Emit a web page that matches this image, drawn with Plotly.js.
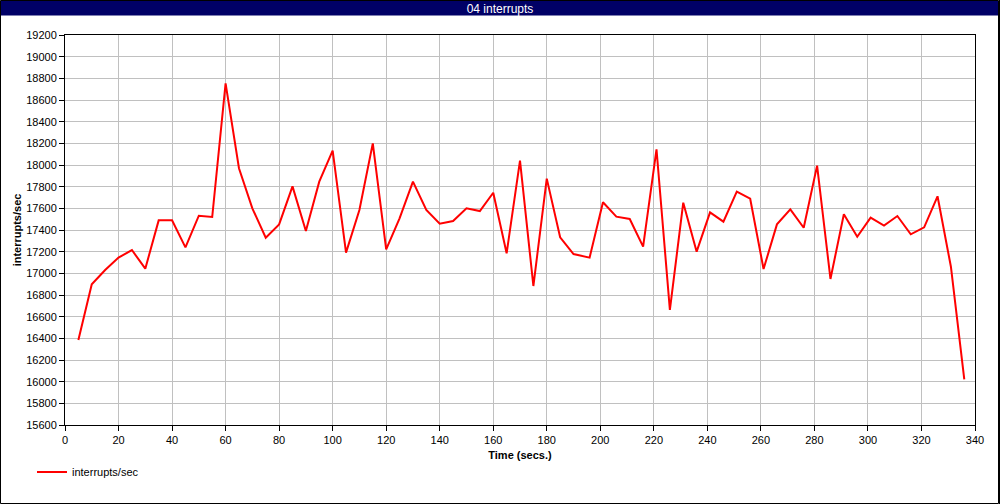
<!DOCTYPE html>
<html>
<head>
<meta charset="utf-8">
<script src="https://cdn.plot.ly/plotly-3.0.1.min.js"></script>
<style>
  html, body { margin: 0; padding: 0; background: #ffffff; }
  #chart { width: 1000px; height: 504px; }
</style>
</head>
<body>
<div id="chart"></div>
<script>
// Data
const chartTitle = '04 interrupts';
const seriesName = 'interrupts/sec';
const xTitle = 'Time (secs.)';
const yTitle = 'interrupts/sec';

const timeSecs = [
  5, 10, 15, 20, 25, 30, 35, 40, 45, 50,
  55, 60, 65, 70, 75, 80, 85, 90, 95, 100,
  105, 110, 115, 120, 125, 130, 135, 140, 145, 150,
  155, 160, 165, 170, 175, 180, 185, 190, 196, 201,
  206, 211, 216, 221, 226, 231, 236, 241, 246, 251,
  256, 261, 266, 271, 276, 281, 286, 291, 296, 301,
  306, 311, 316, 321, 326, 331, 336
];

const interruptsPerSec = [
  16385, 16899, 17031, 17145, 17215, 17043, 17489, 17489, 17240, 17532,
  17520, 18754, 17970, 17600, 17329, 17452, 17803, 17391, 17846, 18132,
  17191, 17585, 18200, 17222, 17508, 17846, 17585, 17458, 17483, 17600,
  17575, 17744, 17185, 18040, 16883, 17874, 17333, 17178, 17145, 17656,
  17523, 17502, 17246, 18145, 16662, 17652, 17200, 17563, 17477, 17754,
  17689, 17040, 17452, 17591, 17421, 17994, 16948, 17545, 17338, 17514,
  17440, 17529, 17360, 17425, 17711, 17061, 16022
];

const xRange = [0, 340];
const yRange = [15600, 19200];

// Layout geometry (pixels)
const W = 1000, H = 504;
const M = { l: 65, r: 25, t: 35, b: 79 };
const PW = W - M.l - M.r, PH = H - M.t - M.b;
const px = v => (v - M.l) / PW;
const py = v => (H - M.b - v) / PH;

const FONT = 'Liberation Sans, Arial, sans-serif';

const trace = {
  type: 'scatter',
  mode: 'lines',
  name: seriesName,
  x: timeSecs,
  y: interruptsPerSec,
  line: { color: '#ff0000', width: 2 },
  showlegend: true
};

const axisCommon = {
  showline: true,
  linecolor: '#000000',
  linewidth: 1,
  mirror: true,
  ticks: 'outside',
  ticklen: 5,
  tickwidth: 1,
  tickcolor: '#000000',
  showgrid: true,
  gridcolor: '#c0c0c0',
  gridwidth: 1,
  zeroline: false,
  tickfont: { family: FONT, size: 11, color: '#000000' },
  tickformat: 'd',
  automargin: false
};

const layout = {
  width: W,
  height: H,
  autosize: false,
  margin: M,
  paper_bgcolor: '#ffffff',
  plot_bgcolor: '#ffffff',
  font: { family: FONT, size: 11, color: '#000000' },
  title: {
    text: chartTitle,
    font: { family: FONT, size: 12, color: '#ffffff' },
    x: 0.5, xref: 'container', xanchor: 'center',
    y: 1 - 8.5 / H, yref: 'container', yanchor: 'middle'
  },
  xaxis: Object.assign({}, axisCommon, {
    range: xRange,
    dtick: 20,
    tick0: 0,
    title: { text: xTitle, font: { family: FONT, size: 11, color: '#000000', weight: 'bold' }, standoff: 6 }
  }),
  yaxis: Object.assign({}, axisCommon, {
    range: yRange,
    dtick: 200,
    tick0: 15600,
    title: { text: yTitle, font: { family: FONT, size: 11, color: '#000000', weight: 'bold' }, standoff: 2 }
  }),
  showlegend: true,
  legend: {
    orientation: 'h',
    x: px(32), xanchor: 'left',
    y: py(472), yanchor: 'middle',
    bgcolor: 'rgba(0,0,0,0)',
    font: { family: FONT, size: 11, color: '#000000' }
  },
  shapes: [
    {
      type: 'rect', xref: 'paper', yref: 'paper', layer: 'above',
      x0: px(1), x1: px(998), y0: py(15.5), y1: py(1),
      fillcolor: '#000066', line: { width: 0 }
    },
    {
      type: 'rect', xref: 'paper', yref: 'paper', layer: 'above',
      x0: px(0.5), x1: px(998.5), y0: py(503.5), y1: py(0.5),
      fillcolor: 'rgba(0,0,0,0)', line: { color: '#000000', width: 1 }
    },
    {
      type: 'line', xref: 'paper', yref: 'paper', layer: 'above',
      x0: px(999.5), x1: px(999.5), y0: py(504), y1: py(0),
      line: { color: '#000000', width: 1 }
    }
  ]
};

Plotly.newPlot('chart', [trace], layout, { staticPlot: true, displayModeBar: false });
</script>
</body>
</html>
